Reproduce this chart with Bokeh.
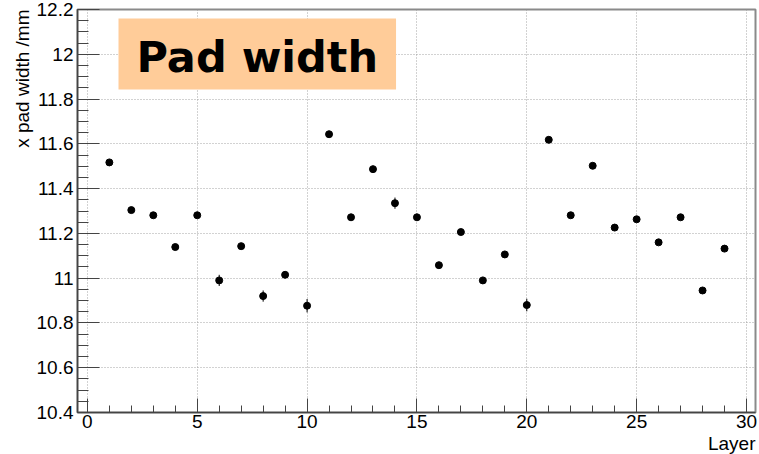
import numpy as np
from bokeh.plotting import figure
from bokeh.models import FixedTicker, PrintfTickFormatter, Label, Range1d, ColumnDataSource, Title
from bokeh.embed import file_html
from bokeh.resources import INLINE

# ---- data ----
layers = list(range(1, 30))
pad_width = [11.517, 11.304, 11.281, 11.139, 11.281, 10.990, 11.143, 10.920, 11.015, 10.877,
             11.643, 11.272, 11.487, 11.335, 11.272, 11.058, 11.206, 10.990, 11.106, 10.880,
             11.618, 11.281, 11.502, 11.226, 11.263, 11.160, 11.272, 10.945, 11.132]
pad_err = [0.012, 0.012, 0.012, 0.012, 0.012, 0.025, 0.012, 0.025, 0.012, 0.030,
           0.012, 0.012, 0.012, 0.025, 0.012, 0.012, 0.012, 0.012, 0.012, 0.028,
           0.012, 0.012, 0.012, 0.012, 0.012, 0.012, 0.012, 0.012, 0.012]
x_ticks = [0, 5, 10, 15, 20, 25, 30]
y_ticks = [10.4, 10.6, 10.8, 11.0, 11.2, 11.4, 11.6, 11.8, 12.0, 12.2]
title_text = "Pad width"
x_title = "Layer"
y_title = "x pad width /mm"

X0, X1 = -0.45, 30.41
Y0, Y1 = 10.4, 12.2

src = ColumnDataSource(dict(
    x=layers, y=pad_width,
    lo=[v - e for v, e in zip(pad_width, pad_err)],
    hi=[v + e for v, e in zip(pad_width, pad_err)],
))

p = figure(width=759, height=454, output_backend="svg", toolbar_location=None,
           x_range=Range1d(X0, X1), y_range=Range1d(Y0, Y1),
           min_border_left=77, min_border_right=4, min_border_top=9, min_border_bottom=42,
           background_fill_color="white", border_fill_color="white")

p.outline_line_color = "#8a8a8a"
p.outline_line_width = 2

# axes
p.xaxis.ticker = FixedTicker(ticks=x_ticks, minor_ticks=list(np.arange(0, 31, 1)))
p.yaxis.ticker = FixedTicker(ticks=y_ticks,
                             minor_ticks=list(np.round(np.arange(10.4, 12.2001, 0.05), 2)))
p.yaxis.formatter = PrintfTickFormatter(format="%g")

for ax in (p.xaxis, p.yaxis):
    ax.axis_line_color = "#444444"
    ax.axis_line_width = 1.5
    ax.major_tick_line_color = "#444444"
    ax.minor_tick_line_color = "#444444"
    ax.major_tick_out = 0
    ax.minor_tick_out = 0
    ax.major_label_text_font = "Liberation Sans"
    ax.major_label_text_font_size = "19px"
    ax.major_label_text_color = "black"

p.yaxis.major_tick_in = 22
p.yaxis.minor_tick_in = 11
p.xaxis.major_tick_in = 14
p.xaxis.minor_tick_in = 7
p.yaxis.major_label_standoff = 4
p.xaxis.major_label_standoff = 2

p.grid.grid_line_color = "#909090"
p.grid.grid_line_dash = "1 2"
p.grid.grid_line_width = 1
p.grid.grid_line_alpha = 0.8

# data
p.segment(x0="x", y0="lo", x1="x", y1="hi", source=src, line_color="black", line_width=1)
p.scatter(x="x", y="y", source=src, size=7, color="black")

# title box
p.add_layout(Label(x=X0, y=Y1, x_offset=41, y_offset=-9, text=title_text,
                   text_font="DejaVu Sans", text_font_style="bold", text_font_size="43px",
                   text_align="left", text_baseline="top", text_color="black",
                   background_fill_color="#ffcc99", padding=(18, 18, 13, 8)))

# axis titles (aligned at the end of the axes, as in the reference)
p.add_layout(Title(text=y_title, align="right", text_font="Liberation Sans",
                   text_font_size="19px", text_font_style="normal", text_color="black",
                   standoff=2), "left")
p.add_layout(Title(text=x_title, align="right", text_font="Liberation Sans",
                   text_font_size="19px", text_font_style="normal", text_color="black",
                   standoff=0), "below")

open("out.html", "w").write(file_html(p, INLINE))
